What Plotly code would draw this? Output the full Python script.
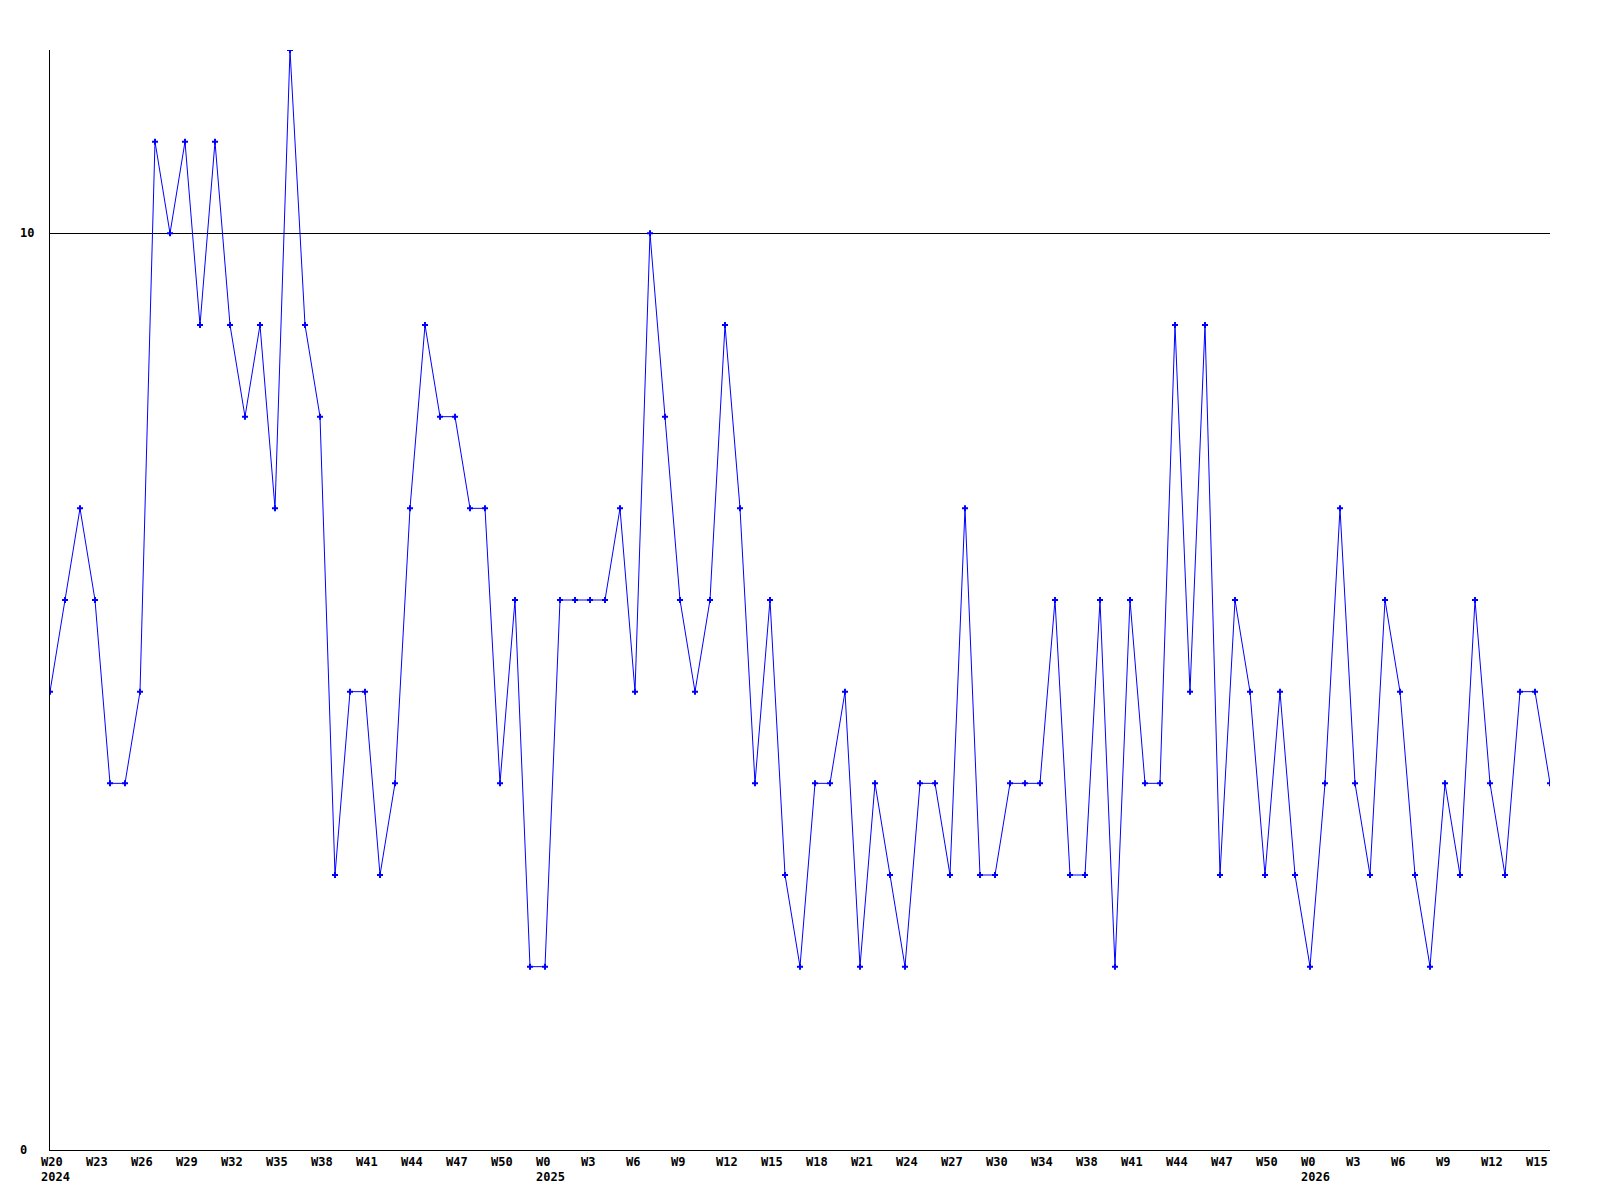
import plotly.graph_objects as go

# Weekly values (index 0 = 2024 W20)
values = [5, 6, 7, 6, 4, 4, 5, 11, 10, 11,
          9, 11, 9, 8, 9, 7, 12, 9, 8, 3,
          5, 5, 3, 4, 7, 9, 8, 8, 7, 7,
          4, 6, 2, 2, 6, 6, 6, 6, 7, 5,
          10, 8, 6, 5, 6, 9, 7, 4, 6, 3,
          2, 4, 4, 5, 2, 4, 3, 2, 4, 4,
          3, 7, 3, 3, 4, 4, 4, 6, 3, 3,
          6, 2, 6, 4, 4, 9, 5, 9, 3, 6,
          5, 3, 5, 3, 2, 4, 7, 4, 3, 6,
          5, 3, 2, 4, 3, 6, 4, 3, 5, 5,
          4]

# Tick labels, one every 3 points
tick_labels = ["W20", "W23", "W26", "W29", "W32", "W35", "W38", "W41", "W44", "W47",
               "W50", "W0", "W3", "W6", "W9", "W12", "W15", "W18", "W21", "W24",
               "W27", "W30", "W34", "W38", "W41", "W44", "W47", "W50", "W0", "W3",
               "W6", "W9", "W12", "W15"]
tick_step = 3
year_labels = {0: "2024", 11: "2025", 28: "2026"}

y_tick_vals = [0, 10]
y_tick_text = ["0", "10"]

x = list(range(len(values)))

fig = go.Figure()
fig.add_trace(go.Scatter(
    x=x, y=values, mode="lines+markers",
    line=dict(color="#0000ff", width=1),
    marker=dict(symbol="cross", size=5, color="#0000ff"),
    showlegend=False, hoverinfo="x+y",
))

font = dict(family="DejaVu Sans Mono", size=12, color="black")
annotations = []
for k, lab in enumerate(tick_labels):
    xi = k * tick_step
    annotations.append(dict(x=xi, y=0, xref="x", yref="paper", text="<b>%s</b>" % lab,
                            showarrow=False, xanchor="left", yanchor="middle",
                            xshift=-11, yshift=-12, font=font))
    if k in year_labels:
        annotations.append(dict(x=xi, y=0, xref="x", yref="paper",
                                text="<b>%s</b>" % year_labels[k],
                                showarrow=False, xanchor="left", yanchor="middle",
                                xshift=-11, yshift=-27, font=font))
for v, t in zip(y_tick_vals, y_tick_text):
    annotations.append(dict(x=0, y=v, xref="paper", yref="y", text="<b>%s</b>" % t,
                            showarrow=False, xanchor="left", yanchor="middle",
                            xshift=-32, font=font))

fig.update_layout(
    width=1584, height=1184,
    margin=dict(l=42, r=42, t=42, b=42),
    paper_bgcolor="white", plot_bgcolor="white",
    annotations=annotations,
    xaxis=dict(range=[0, len(values) - 1], showgrid=False, zeroline=False,
               showline=True, linecolor="black", linewidth=1,
               showticklabels=False, ticks=""),
    yaxis=dict(range=[0, 12], tickvals=[10], showgrid=True, gridcolor="black",
               gridwidth=1, zeroline=False, showline=True, linecolor="black",
               linewidth=1, showticklabels=False, ticks=""),
)

fig.write_html("out.html")
